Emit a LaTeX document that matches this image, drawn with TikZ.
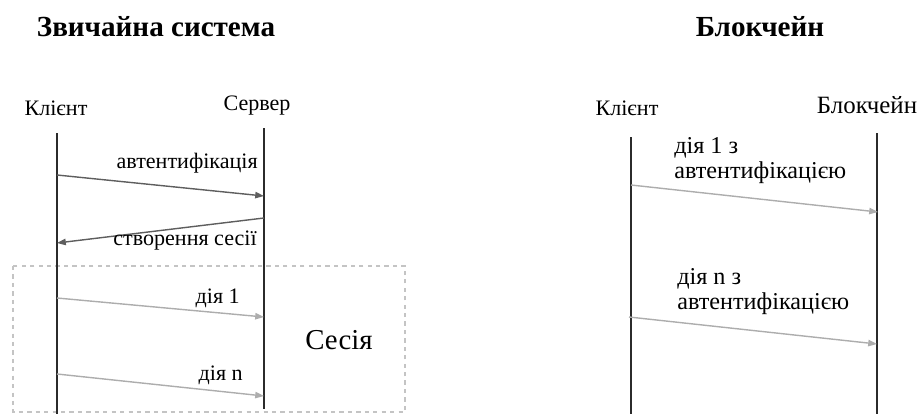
\documentclass[tikz,border=0pt]{standalone}
\usepackage{fontspec}
\setmainfont{Liberation Serif}
\usetikzlibrary{arrows.meta}
\definecolor{lifeline}{HTML}{2B2B2B}
\definecolor{msgdark}{HTML}{5E5E5E}
\definecolor{msglight}{HTML}{ADADAD}
\definecolor{sessionbox}{HTML}{C4C4C4}

\tikzset{
  lane/.style={line width=1.2pt, draw=lifeline},
  msg/.style={line width=1pt, draw=msgdark, -{Triangle[length=2.2mm,width=1.6mm]}},
  msglite/.style={msg, draw=msglight},
  actor/.style={font=\fontsize{15.7}{18}\selectfont},
  lbl/.style={font=\fontsize{15.7}{18}\selectfont, inner sep=0pt},
  lblbig/.style={font=\fontsize{17.2}{17.8}\selectfont, inner sep=0pt, align=left},
  heading/.style={font=\fontsize{20.7}{24}\selectfont\bfseries}
}

\begin{document}
\begin{tikzpicture}[x=0.025cm, y=-0.025cm]
  \useasboundingbox (0,0) rectangle (922,414);

  % left: usual client-server system
  \node[heading] (t1) at (156,27) {Звичайна система};
  \node[actor] (cl) at (56,108) {Клієнт};
  \node[actor] (sv) at (257,106) {Сервер};

  \draw[dashed, draw=sessionbox, line width=0.8pt] (13,266) rectangle (405,412);
  \node[font=\fontsize{20.5}{24}\selectfont] (ses) at (339,340) {Сесія};

  \coordinate (cltop) at (57,133);  \coordinate (clbot) at (57,414);
  \coordinate (svtop) at (264,128); \coordinate (svbot) at (264,409);
  \draw[lane] (cltop) -- (clbot);
  \draw[lane] (svtop) -- (svbot);

  \coordinate (a1) at (57,175);  \coordinate (b1) at (264,196);
  \coordinate (a2) at (264,218); \coordinate (b2) at (57,243);
  \coordinate (a3) at (57,298);  \coordinate (b3) at (264,317);
  \coordinate (a4) at (57,374);  \coordinate (b4) at (264,396);
  \draw[msg] (a1) -- (b1);
  \draw[msg] (a2) -- (b2);
  \draw[msglite] (a3) -- (b3);
  \draw[msglite] (a4) -- (b4);

  \node[lbl, anchor=east] (auth) at (258,163) {автентифікація};
  \node[lbl, anchor=east] (mk) at (257,241) {створення сесії};
  \node[lbl, anchor=east] (d1) at (240,298) {дія 1};
  \node[lbl, anchor=east] (dn) at (243,375) {дія n};

  % right: blockchain
  \node[heading] (t2) at (760,27) {Блокчейн};
  \node[actor] (bcl) at (627,108) {Клієнт};
  \node[font=\fontsize{17.7}{20}\selectfont] (bc) at (867,105) {Блокчейн};

  \coordinate (bcltop) at (631,137); \coordinate (bclbot) at (631,414);
  \coordinate (bctop) at (877,133);  \coordinate (bcbot) at (877,414);
  \draw[lane] (bcltop) -- (bclbot);
  \draw[lane] (bctop) -- (bcbot);

  \coordinate (r1) at (631,185); \coordinate (s1) at (878,212);
  \coordinate (r2) at (629,317); \coordinate (s2) at (877,344);
  \draw[msglite] (r1) -- (s1);
  \draw[msglite] (r2) -- (s2);

  \node[lblbig, anchor=west] (q1) at (674,161) {дія 1 з\\автентифікацією};
  \node[lblbig, anchor=west] (q2) at (677,292) {дія n з\\автентифікацією};
\end{tikzpicture}
\end{document}
